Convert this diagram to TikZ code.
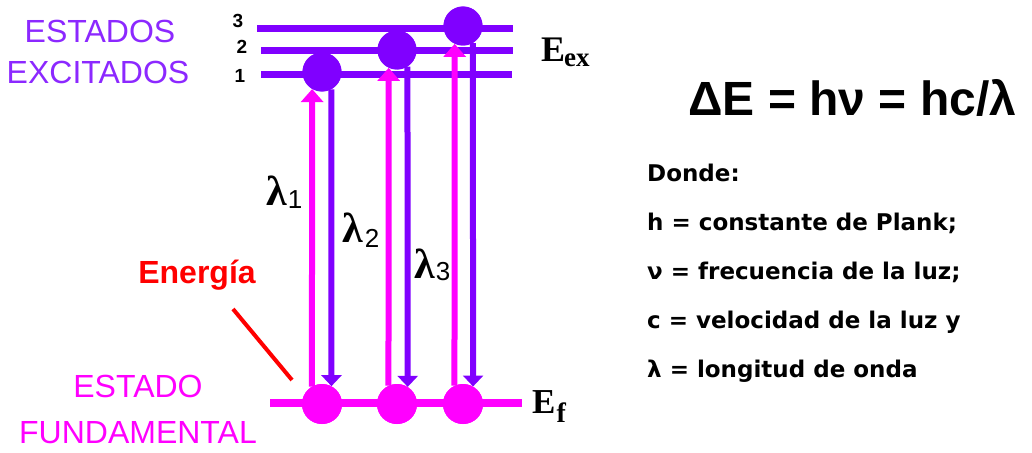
\documentclass[tikz,border=0pt]{standalone}
\usepackage{fontspec}
\setmainfont{Liberation Sans}
\newfontfamily\tms{Liberation Serif}
\newfontfamily\dvs{DejaVu Sans}
\usetikzlibrary{arrows.meta}
\definecolor{purp}{RGB}{128,0,255}
\definecolor{mag}{RGB}{255,0,255}
\definecolor{txtpurp}{RGB}{140,40,255}
\begin{document}
\begin{tikzpicture}[x=1pt,y=-1pt,
  lvl/.style={purp,line width=7pt},
  ground/.style={mag,line width=8pt},
  excdot/.style={circle,fill=purp,inner sep=0pt,minimum size=39pt},
  gnddot/.style={circle,fill=mag,inner sep=0pt,minimum size=40pt},
  uparr/.style={mag,line width=6pt,-{Triangle[length=13pt,width=22pt]}},
  dnarr/.style={purp,line width=6pt,-{Triangle[length=11pt,width=20pt]}},
  bigtxt/.style={anchor=base,inner sep=0pt,font=\fontsize{32}{32}\selectfont},
  numtxt/.style={anchor=base,inner sep=0pt,font=\bfseries\fontsize{19}{19}\selectfont},
  lamtxt/.style={anchor=base west,inner sep=0pt},
  deftxt/.style={anchor=base west,inner sep=0pt,font=\dvs\bfseries\fontsize{23}{23}\selectfont}
]
\useasboundingbox[fill=white] (0,0) rectangle (1032,452);

% energy levels
\draw[lvl] (257,29) -- (513,29);
\draw[lvl] (261,51) -- (513,51);
\draw[lvl] (261,74) -- (512,74);
\draw[ground] (270,403) -- (522,403);

% dots (positions)
\node[excdot] (x1) at (322,72) {};
\node[excdot] (x2) at (397,50) {};
\node[excdot] (x3) at (463,26) {};
\node[gnddot] (g1) at (322,404) {};
\node[gnddot] (g2) at (397,404) {};
\node[gnddot] (g3) at (463,404) {};

% transitions
\draw[uparr] (g1.120) -- (x1.-120);
\draw[uparr] (g2.115) -- (x2.-115);
\draw[uparr] (g3.115) -- (x3.-115);
\draw[dnarr] (x1.-62) -- (g1.62);
\draw[dnarr] (x2.-58) -- (g2.58);
\draw[dnarr] (x3.-60) -- (g3.60);

% redraw dots on top
\node[excdot] at (x1) {};
\node[excdot] at (x2) {};
\node[excdot] at (x3) {};
\node[gnddot] at (g1) {};
\node[gnddot] at (g2) {};
\node[gnddot] at (g3) {};

% level numbers
\node[numtxt] (n3) at (238,28) {3};
\node[numtxt] (n2) at (242,53) {2};
\node[numtxt] (n1) at (240,82) {1};

% side labels
\node[bigtxt,txtpurp] (es) at (100,42) {ESTADOS};
\node[bigtxt,txtpurp] (ex) at (98,83) {EXCITADOS};
\node[bigtxt,mag] (ef1) at (138,397) {ESTADO};
\node[bigtxt,mag] (ef2) at (138,443) {FUNDAMENTAL};

\node[anchor=base west,inner sep=0pt,font=\tms\bfseries\fontsize{36}{36}\selectfont] (Eex) at (541,62)
  {E\kern-1pt\raisebox{-5pt}{\fontsize{27}{27}\selectfont ex}};
\node[anchor=base west,inner sep=0pt,font=\tms\bfseries\fontsize{35}{35}\selectfont] (Ef) at (532,413)
  {E\kern1pt\raisebox{-9pt}{\fontsize{28}{28}\selectfont f}};

% energy label
\node[anchor=base,inner sep=0pt,red,font=\bfseries\fontsize{32}{32}\selectfont] (en) at (197,283) {Energía};
\coordinate (r1) at (233,309);
\coordinate (r2) at (292,380);
\draw[red,line width=4pt] (r1) -- (r2);

% wavelengths
\node[lamtxt] (l1) at (266,205) {{\tms\bfseries\fontsize{42}{42}\selectfont λ}\kern1pt\raisebox{-3pt}{\fontsize{26}{26}\selectfont 1}};
\node[lamtxt] (l2) at (342,242) {{\tms\bfseries\fontsize{42}{42}\selectfont λ}\kern2pt\raisebox{-5pt}{\fontsize{26}{26}\selectfont 2}};
\node[lamtxt] (l3) at (414,278) {{\tms\bfseries\fontsize{42}{42}\selectfont λ}\kern1pt\raisebox{-2pt}{\fontsize{26}{26}\selectfont 3}};

% formula
\node[anchor=base west,inner sep=0pt,font=\bfseries\fontsize{48}{48}\selectfont] (fm) at (688,115) {ΔE = hν = hc/λ};

% definitions
\node[deftxt] (d0) at (647,181) {Donde:};
\node[deftxt] (d1) at (647,230) {h = constante de Plank;};
\node[deftxt] (d2) at (647,279) {ν = frecuencia de la luz;};
\node[deftxt] (d3) at (647,328) {c = velocidad de la luz y};
\node[deftxt] (d4) at (647,377) {λ = longitud de onda};
\end{tikzpicture}
\end{document}
